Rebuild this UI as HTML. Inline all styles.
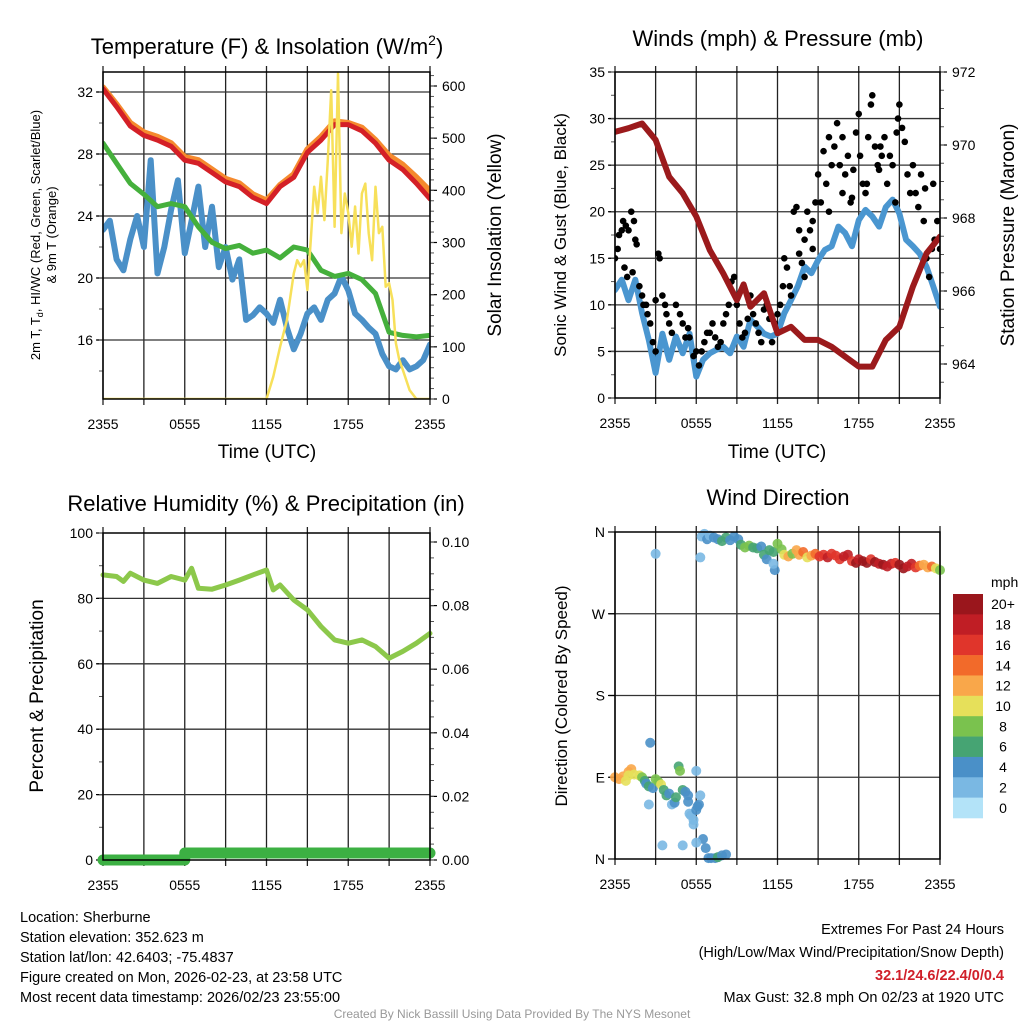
<!DOCTYPE html>
<html><head><meta charset="utf-8">
<style>
html,body{margin:0;padding:0;background:#fff;}
svg{display:block;font-family:"Liberation Sans",sans-serif;}
</style></head>
<body>
<svg id="root" width="1024" height="1024" viewBox="0 0 1024 1024" xmlns="http://www.w3.org/2000/svg">
<g id="p1"></g>
<g id="p2"></g>
<g id="p3"></g>
<g id="p4"></g>
<g id="texts" font-size="14.5" fill="#000">
<text x="20" y="922">Location: Sherburne</text>
<text x="20" y="942">Station elevation: 352.623 m</text>
<text x="20" y="962">Station lat/lon: 42.6403; -75.4837</text>
<text x="20" y="982">Figure created on Mon, 2026-02-23, at 23:58 UTC</text>
<text x="20" y="1002">Most recent data timestamp: 2026/02/23 23:55:00</text>
<text x="1004" y="934" text-anchor="end">Extremes For Past 24 Hours</text>
<text x="1004" y="957" text-anchor="end">(High/Low/Max Wind/Precipitation/Snow Depth)</text>
<text x="1004" y="980" text-anchor="end" fill="#d0202a" font-weight="bold">32.1/24.6/22.4/0/0.4</text>
<text x="1004" y="1002" text-anchor="end">Max Gust: 32.8 mph On 02/23 at 1920 UTC</text>
<text x="512" y="1018" text-anchor="middle" font-size="12" fill="#999">Created By Nick Bassill Using Data Provided By The NYS Mesonet</text>
</g>
</svg>
<script>
// ---- data ----
const xTickHours = [0, 6, 12, 18, 24];
const xTickLabels = ["2355", "0555", "1155", "1755", "2355"];
const hourly = [0,1,2,3,4,5,6,7,8,9,10,11,12,13,14,15,16,17,18,19,20,21,22,23,24];
const tempRed = [32.2,31.05,29.8,29.2,28.9,28.5,27.6,27.4,26.8,26.2,25.9,25.2,24.8,25.9,26.5,28.1,28.9,29.9,29.9,29.5,28.7,27.6,27.0,26.1,25.1];
const temp9m = [32.3,31.2,30.0,29.4,29.1,28.7,27.8,27.6,27.0,26.4,26.1,25.4,25.0,26.0,26.7,28.3,29.1,30.1,30.0,29.7,28.9,27.9,27.3,26.5,25.6];
const tempGreen = [28.7,27.4,26.1,25.4,24.6,24.8,24.6,23.3,22.3,21.9,22.1,21.6,21.8,21.3,22.0,21.8,20.5,20.1,20.3,19.9,19.0,16.5,16.3,16.2,16.3];
const halfHours = [0,0.5,1,1.5,2,2.5,3,3.5,4,4.5,5,5.5,6,6.5,7,7.5,8,8.5,9,9.5,10,10.5,11,11.5,12,12.5,13,13.5,14,14.5,15,15.5,16,16.5,17,17.5,18,18.5,19,19.5,20,20.5,21,21.5,22,22.5,23,23.5,24];
const tempBlue = [23.1,23.7,21.2,20.5,22.5,24.0,22.0,27.6,20.3,22.0,24.4,26.3,21.6,23.7,25.9,22.0,24.6,20.7,22.0,19.9,21.2,17.3,17.6,18.1,17.7,17.1,18.6,16.8,15.4,16.4,17.7,18.1,17.3,18.6,19.0,20.1,19.2,17.7,17.3,16.8,16.4,15.1,14.3,14.1,14.7,14.1,14.3,14.7,15.7];
const solarTimes = [0,12,12.5,13,13.5,14,14.25,14.5,14.75,15,15.25,15.5,15.75,16,16.25,16.5,16.75,17,17.25,17.5,17.75,18,18.25,18.5,18.75,19,19.25,19.5,19.75,20,20.25,20.5,20.75,21,21.25,21.5,21.75,22,22.5,23,24];
const solarVals = [0,0,43,100,151,241,266,254,266,209,305,407,356,426,343,458,592,330,624,318,394,356,292,369,279,394,413,318,266,407,318,330,215,222,190,107,75,56,17,0,0];
const windBlue = [11.6,12.7,10.5,12.7,9.1,6.2,2.7,6.9,4.1,6.6,4.8,6.9,2.3,4.1,4.8,5.2,5.5,4.8,6.6,5.5,8.4,7.7,6.9,6.6,6.9,9.1,10.5,12.0,14.1,13.4,14.8,15.9,16.3,18.4,17.7,16.3,19.1,20.2,19.5,18.4,20.5,21.3,19.8,17.0,16.3,15.5,14.1,12.0,9.8];
const pressTimes = [0,1,2,3,4,5,6,7,8,9,9.5,10,11,12,13,14,15,16,17,18,19,20,21,22,23,24];
const pressVals = [970.36,970.46,970.59,970.14,969.13,968.68,968.04,967.12,966.48,965.75,966.18,965.57,965.94,964.84,965.02,964.66,964.66,964.47,964.20,963.93,963.93,964.66,965.02,966.12,967.03,967.49];
const gustTimes = [0.0,0.2,0.3,0.5,0.6,0.8,1.0,1.2,1.4,1.5,0.7,0.9,1.3,1.6,1.8,2.0,2.1,2.3,2.4,2.6,2.8,3.0,3.2,3.3,3.0,3.5,3.7,3.8,4.0,4.2,4.5,4.8,5.0,5.2,5.4,5.5,5.8,6.0,6.2,6.4,6.6,6.8,7.0,7.2,7.4,7.6,7.8,8.0,8.2,8.4,8.6,8.8,9.0,9.2,9.4,9.6,9.8,10.0,10.2,10.4,10.6,10.8,11.0,11.2,11.4,11.6,11.8,12.0,12.2,12.4,12.5,12.7,12.9,13.0,13.2,13.4,13.6,13.8,14.0,14.2,14.4,14.6,14.8,15.0,15.2,15.4,15.6,15.8,16.0,16.2,16.4,16.6,16.8,17.0,17.2,17.4,17.6,17.8,18.0,18.1,18.3,18.5,18.7,18.9,19.0,19.2,19.4,19.5,19.7,19.9,20.1,20.3,20.5,20.7,20.9,21.0,21.2,21.4,21.6,21.8,22.0,22.2,22.4,22.6,22.8,23.0,23.2,23.4,23.6,23.8,24.0,23.5,22.9,18.6,16.8,17.5,14.6,14.0,13.6,15.8,19.6,20.8];
const gustVals = [15,16,17.5,18,19,18.5,18,20,19,17,14,13,13.5,16.5,12,11,10,10,9,8,6,5,15.5,15,10.5,11,10,9,8,7,10,9,8,6.5,7.5,6.5,4.5,5,3.5,5,6,7,7,8,6.5,5.5,6,8,9,10,12.5,13,10,8,6.5,7,8.5,11,9,8,7,6,9.5,10,8.5,6,8,9,10,12,15,14,12,11,20,20.5,18,14.5,17,20,18,19,21,24,21,26.5,23,20,25,27,29.5,25,28,24,26,21,24.5,28.5,30.5,26,23,22,28,31.5,32.5,27,25,24.5,26,28,23,26,25,21,30,31.5,29,27.5,24,22,25,22,20.5,24,19,15,13,16,17,19,16,23,22.5,23,22,21.5,16,13,15.5,28,27,28.5];
const rhTimes = [0,1,1.5,2,3,4,5,6,6.5,7,8,9,10,11,12,12.5,13,14,15,16,17,18,19,20,21,22,23,24];
const rhVals = [87.2,86.7,85.2,87.7,85.6,84.6,86.7,85.6,89.2,83.1,82.8,84.1,85.6,87.2,88.7,82.6,84.1,79.5,76.5,71.4,67.3,66.3,67.3,65.3,61.7,63.8,66.3,69.3];
const precipTimes = [0,6,6,24];
const precipVals = [0,0,0.0022,0.0022];
const dirTimes = [6.4,6.6,6.8,7.0,7.3,7.6,7.9,8.2,8.5,8.8,9.1,9.3,9.6,9.9,10.2,10.5,10.8,11.0,11.2,11.4,11.7,12.0,12.3,12.5,12.8,13.1,13.4,13.6,13.9,14.2,14.5,14.8,15.1,15.4,15.7,16.0,16.3,16.6,16.9,17.2,17.5,17.8,18.0,18.3,18.6,18.9,19.2,19.5,19.8,20.1,20.4,20.7,21.0,21.3,21.6,21.9,22.2,22.5,22.8,23.1,23.4,23.7,24.0,3.0,6.3,11.8,11.7,0.0,0.3,0.6,1.0,1.2,1.4,1.8,2.0,2.2,2.3,2.5,2.6,2.5,2.8,3.0,3.2,3.4,3.6,3.8,4.0,4.2,4.4,4.5,4.7,4.8,5.0,5.2,5.4,5.5,5.6,5.8,6.0,6.1,6.2,6.0,6.3,5.8,5.4,1.0,0.8,6.9,7.1,7.4,7.6,7.9,8.2,6.5,6.7,6.0,5.0,3.5];
const dirVals = [355,358,352,356,354,352,350,354,351,355,352,346,343,345,343,342,344,335,330,340,338,347,341,335,333,336,340,335,338,332,334,336,333,335,332,336,334,330,333,335,328,326,330,328,326,330,327,325,324,322,325,326,324,320,322,325,321,323,324,321,322,320,318,336,332,318,325,90,88,91,96,99,93,92,90,86,83,80,128,60,78,88,85,82,76,70,72,60,62,68,102,97,76,74,70,50,48,43,54,58,60,97,70,38,63,92,86,1,1,1,2,4,5,22,12,18,15,15];
const dirSpeeds = [3,3,4,3,4,5,6,6,5,4,4,7,8,8,7,6,5,6,4,6,6,8,9,10,13,9,12,12,14,11,12,14,16,16,18,17,16,17,18,18,16,20,19,20,20,17,20,18,20,19,18,17,20,20,19,18,16,15,13,12,14,10,8,2,2,4,3,12,12,13,12,13,11,10,9,6,4,6,4,2,4,8,9,10,6,6,4,2,4,6,6,8,6,5,4,3,2,2,4,4,4,2,2,3,4,10,10,4,4,4,6,4,4,4,4,2,2,2];
const speedBins = [0,2,4,6,8,10,12,14,16,18,20];
const speedLabels = ["0","2","4","6","8","10","12","14","16","18","20+"];
const speedColors = ["#b3e3f8","#7ab8e3","#4a90c8","#46a473","#7ac24e","#e6e05a","#f9a74a","#f26a2a","#e0352b","#c01e25","#9a161c"];
const tempTicks = [16,20,24,28,32];
const solarTicks = [0,100,200,300,400,500,600];
const windTicks = [0,5,10,15,20,25,30,35];
const pressTicks = [964,966,968,970,972];
const rhTicks = [0,20,40,60,80,100];
const precipTicks = [0,0.02,0.04,0.06,0.08,0.10];
const dirTicks = [0,90,180,270,360];
const dirLabels = ["N","E","S","W","N"];

// ---- helpers ----
const NS = "http://www.w3.org/2000/svg";
function mk(tag, attrs, parent) {
  const e = document.createElementNS(NS, tag);
  for (const k in attrs) e.setAttribute(k, attrs[k]);
  parent.appendChild(e);
  return e;
}
function linScale(d0, d1, r0, r1) { return v => r0 + (v - d0) * (r1 - r0) / (d1 - d0); }
function pathFrom(xs, ys, sx, sy) {
  return xs.map((t, i) => (i ? "L" : "M") + sx(t).toFixed(1) + "," + sy(ys[i]).toFixed(1)).join("");
}
function frame(g, P, sx) {
  for (let h = 0; h <= 24; h += 3) {
    const ln = mk("line", {x1: sx(h), x2: sx(h), y1: P.y0 - 6, y2: P.y1 + 6, stroke: "#222", "stroke-width": 1.3}, g);
    
    
  }
  xTickHours.forEach((h, i) => {
    const t = mk("text", {x: sx(h), y: P.y1 + 30, "text-anchor": "middle", "font-size": 14, textLength: 31, lengthAdjust: "spacingAndGlyphs"}, g);
    t.textContent = xTickLabels[i];
    
    
  });
}
function border(g, P) {
  const r = mk("rect", {x: P.x0, y: P.y0, width: P.x1 - P.x0, height: P.y1 - P.y0, fill: "none", stroke: "#000", "stroke-width": 1.5}, g);
  
  
}
function hGrid(g, P, ticks, sy) {
  ticks.forEach(v => {
    const y = sy(v);
    if (Math.abs(y - P.y0) < 2 || Math.abs(y - P.y1) < 2) return;
    const ln = mk("line", {x1: P.x0 - 6, x2: P.x1, y1: y, y2: y, stroke: "#333", "stroke-width": 1.3}, g);
    
    
  });
}
function leftAxis(g, P, ticks, labels, sy, minorStep, lo, hi) {
  ticks.forEach((v, i) => {
    const y = sy(v);
    mk("line", {x1: P.x0 - 7, x2: P.x0, y1: y, y2: y, stroke: "#000", "stroke-width": 1.2}, g);
    const t = mk("text", {x: P.x0 - 10, y: y + 5, "text-anchor": "end", "font-size": 14}, g);
    t.textContent = labels ? labels[i] : v;
    
    
  });
  if (minorStep) for (let v = lo; v <= hi + 1e-9; v += minorStep) {
    const y = sy(v);
    if (y < P.y0 - 0.5 || y > P.y1 + 0.5) continue;
    mk("line", {x1: P.x0 - 4, x2: P.x0, y1: y, y2: y, stroke: "#555", "stroke-width": 1}, g);
  }
}
function rightAxis(g, P, ticks, labels, sy, minorStep, lo, hi) {
  ticks.forEach((v, i) => {
    const y = sy(v);
    mk("line", {x1: P.x1, x2: P.x1 + 7, y1: y, y2: y, stroke: "#000", "stroke-width": 1.2}, g);
    const t = mk("text", {x: P.x1 + 12, y: y + 5, "font-size": 14}, g);
    t.textContent = labels ? labels[i] : v;
    
    
  });
  for (let v = lo; v <= hi + 1e-9; v += minorStep) {
    const y = sy(v);
    if (y < P.y0 - 0.5 || y > P.y1 + 0.5) continue;
    mk("line", {x1: P.x1, x2: P.x1 + 4, y1: y, y2: y, stroke: "#555", "stroke-width": 1}, g);
  }
}
function txt(g, s, attrs) {
  const t = mk("text", attrs, g);
  t.textContent = s;
  return t;
}

// ---- Panel 1 ----
(function () {
  const g = document.getElementById("p1");
  const P = {x0: 103, x1: 430, y0: 72, y1: 399};
  const sx = linScale(0, 24, P.x0, P.x1);
  const sy = linScale(32, 16, 92, 340);
  const sSolar = linScale(0, 600, 399, 86);
  frame(g, P, sx);
  hGrid(g, P, tempTicks, sy);
  leftAxis(g, P, tempTicks, null, sy, 2, 14, 32);
  rightAxis(g, P, solarTicks, null, sSolar, 20, 0, 620);
  const cl = mk("clipPath", {id: "c1"}, g);
  mk("rect", {x: P.x0, y: P.y0, width: P.x1 - P.x0, height: P.y1 - P.y0}, cl);
  const d = mk("g", {"clip-path": "url(#c1)", fill: "none", "stroke-linejoin": "round", "stroke-linecap": "round"}, g);
  const blue = mk("path", {d: pathFrom(halfHours, tempBlue, sx, sy), stroke: "#4a90c8", "stroke-width": 6}, d);
  
  
  const green = mk("path", {d: pathFrom(hourly, tempGreen, sx, sy), stroke: "#45b03c", "stroke-width": 5}, d);
  
  
  const orange = mk("path", {d: pathFrom(hourly, temp9m, sx, sy), stroke: "#f58a2e", "stroke-width": 6}, d);
  
  
  const red = mk("path", {d: pathFrom(hourly, tempRed, sx, sy), stroke: "#d42027", "stroke-width": 5}, d);
  
  
  const yel = mk("path", {d: pathFrom(solarTimes, solarVals, sx, sSolar), stroke: "#f7e05a", "stroke-width": 2.5}, d);
  
  
  border(g, P);
  const ti = mk("text", {x: 267, y: 54, "text-anchor": "middle", "font-size": 22}, g);
  ti.innerHTML = 'Temperature (F) &amp; Insolation (W/m<tspan dy="-9" font-size="14">2</tspan><tspan dy="9">)</tspan>';
  
  
  const xt = txt(g, "Time (UTC)", {x: 267, y: 458, "text-anchor": "middle", "font-size": 19});
  
  
  const yl = mk("text", {transform: "translate(40,235) rotate(-90)", "text-anchor": "middle", "font-size": 13}, g);
  yl.innerHTML = '2m T, T<tspan dy="3" font-size="9">d</tspan><tspan dy="-3">, HI/WC (Red, Green, Scarlet/Blue)</tspan>';
  
  
  const yl2 = txt(g, "& 9m T (Orange)", {transform: "translate(56,235) rotate(-90)", "text-anchor": "middle", "font-size": 13});
  
  
  const yr = txt(g, "Solar Insolation (Yellow)", {transform: "translate(501,235) rotate(-90)", "text-anchor": "middle", "font-size": 19});
  
  
})();

// ---- Panel 2 ----
(function () {
  const g = document.getElementById("p2");
  const P = {x0: 615, x1: 940, y0: 72, y1: 398};
  const sx = linScale(0, 24, P.x0, P.x1);
  const sy = linScale(0, 35, 398, 72);
  const sp = linScale(972, 964, 72, 364);
  frame(g, P, sx);
  hGrid(g, P, windTicks, sy);
  leftAxis(g, P, windTicks, null, sy, 2.5, 0, 35);
  rightAxis(g, P, pressTicks, null, sp, 0.5, 963, 972);
  const cl = mk("clipPath", {id: "c2"}, g);
  mk("rect", {x: P.x0, y: P.y0, width: P.x1 - P.x0, height: P.y1 - P.y0}, cl);
  const d = mk("g", {"clip-path": "url(#c2)", fill: "none", "stroke-linejoin": "round", "stroke-linecap": "round"}, g);
  const wb = mk("path", {d: pathFrom(halfHours, windBlue, sx, sy), stroke: "#4a96d0", "stroke-width": 6}, d);
  
  
  gustTimes.forEach((t, i) => {
    const c = mk("circle", {cx: sx(t), cy: sy(gustVals[i]), r: 3.3, fill: "#000"}, d);
    
    
  });
  const pr = mk("path", {d: pathFrom(pressTimes, pressVals, sx, sp), stroke: "#9b1a1c", "stroke-width": 6}, d);
  
  
  border(g, P);
  const ti = txt(g, "Winds (mph) & Pressure (mb)", {x: 778, y: 46, "text-anchor": "middle", "font-size": 22});
  
  
  const xt = txt(g, "Time (UTC)", {x: 777, y: 458, "text-anchor": "middle", "font-size": 19});
  
  
  const yl = txt(g, "Sonic Wind & Gust (Blue, Black)", {transform: "translate(566,235) rotate(-90)", "text-anchor": "middle", "font-size": 17});
  
  
  const yr = txt(g, "Station Pressure (Maroon)", {transform: "translate(1014,235) rotate(-90)", "text-anchor": "middle", "font-size": 19});
  
  
})();

// ---- Panel 3 ----
(function () {
  const g = document.getElementById("p3");
  const P = {x0: 103, x1: 430, y0: 533, y1: 860};
  const sx = linScale(0, 24, P.x0, P.x1);
  const sy = linScale(0, 100, 860, 533);
  const spc = linScale(0, 0.10, 860, 542);
  frame(g, P, sx);
  hGrid(g, P, rhTicks, sy);
  leftAxis(g, P, rhTicks, null, sy, 10, 0, 100);
  rightAxis(g, P, precipTicks, precipTicks.map(v => v.toFixed(2)), spc, 0.005, 0, 0.10);
  const d = mk("g", {fill: "none", "stroke-linejoin": "round", "stroke-linecap": "round"}, g);
  const rh = mk("path", {d: pathFrom(rhTimes, rhVals, sx, sy), stroke: "#8cc84b", "stroke-width": 5}, d);
  
  
  const pc = mk("path", {d: pathFrom(precipTimes, precipVals, sx, spc), stroke: "#3cb043", "stroke-width": 11}, d);
  
  
  border(g, P);
  const ti = txt(g, "Relative Humidity (%) & Precipitation (in)", {x: 266, y: 511, "text-anchor": "middle", "font-size": 22});
  
  
  const yl = txt(g, "Percent & Precipitation", {transform: "translate(43,696) rotate(-90)", "text-anchor": "middle", "font-size": 19});
  
  
})();

// ---- Panel 4 ----
(function () {
  const g = document.getElementById("p4");
  const P = {x0: 615, x1: 940, y0: 532, y1: 859};
  const sx = linScale(0, 24, P.x0, P.x1);
  const sy = linScale(0, 360, 859, 532);
  frame(g, P, sx);
  hGrid(g, P, dirTicks, sy);
  leftAxis(g, P, dirTicks, dirLabels, sy, 0, 0, 0);
  function colorFor(s) {
    let k = 0;
    for (let i = 0; i < speedBins.length; i++) if (s >= speedBins[i]) k = i;
    return speedColors[k];
  }
  dirTimes.forEach((t, i) => {
    const c = mk("circle", {cx: sx(t), cy: sy(dirVals[i]), r: 5, fill: colorFor(dirSpeeds[i]), "fill-opacity": 0.9}, g);
    
    
  });
  border(g, P);
  const ti = txt(g, "Wind Direction", {x: 778, y: 505, "text-anchor": "middle", "font-size": 22});
  
  
  const yl = txt(g, "Direction (Colored By Speed)", {transform: "translate(567,696) rotate(-90)", "text-anchor": "middle", "font-size": 17});
  
  
  const lg = mk("g", {}, g);
  
  
  const ut = txt(lg, "mph", {x: 991, y: 587, "font-size": 14});
  
  
  const n = speedColors.length, top = 594, h = 224 / n;
  for (let i = 0; i < n; i++) {
    const k = n - 1 - i;
    const r = mk("rect", {x: 953, y: top + i * h, width: 30, height: h + 0.3, fill: speedColors[k]}, lg);
    
    
    const t = txt(lg, speedLabels[k], {x: 1003, y: top + i * h + h / 2 + 5, "text-anchor": "middle", "font-size": 14});
    
    
  }
})();
</script>
</body></html>
